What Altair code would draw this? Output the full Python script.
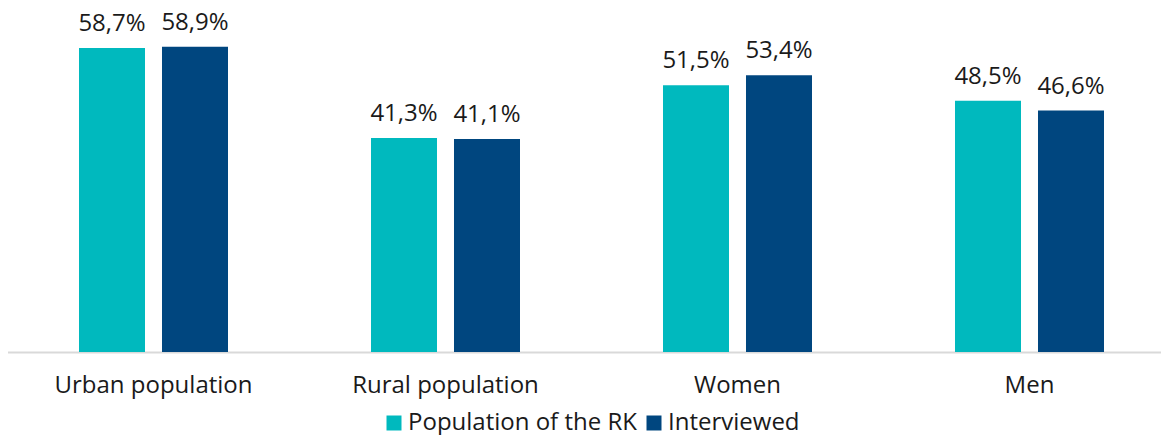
import altair as alt
import pandas as pd

categories = ["Urban population", "Rural population", "Women", "Men"]
series = ["Population of the RK", "Interviewed"]
population_rk = [58.7, 41.3, 51.5, 48.5]
interviewed = [58.9, 41.1, 53.4, 46.6]
colors = ["#00B9BE", "#00467F"]

rows = []
for i, c in enumerate(categories):
    for s, vals in zip(series, [population_rk, interviewed]):
        v = vals[i]
        rows.append({"category": c, "series": s, "value": v,
                     "label": f"{v:.1f}".replace(".", ",") + "%"})
df = pd.DataFrame(rows)

FONT = "Open Sans"
TXT = "#1a1a1a"

x = alt.X("category:N", sort=categories, title=None,
          scale=alt.Scale(paddingInner=0, paddingOuter=0, range=[-0.5, 1167.5]),
          axis=alt.Axis(labelAngle=0, ticks=False, domainColor="#d9d9d9", domainWidth=2,
                        labelFontSize=24, labelFont=FONT, labelColor=TXT,
                        labelPadding=21, labelLimit=400, grid=False))
xo = alt.XOffset("series:N", sort=series,
                 scale=alt.Scale(paddingInner=0.2048, paddingOuter=0.8614))
y = alt.Y("value:Q", scale=alt.Scale(domain=[0, 66.4]), axis=None)

base = alt.Chart(df).encode(x=x, xOffset=xo, y=y)

bars = base.mark_bar().encode(
    color=alt.Color("series:N", sort=series,
                    scale=alt.Scale(domain=series, range=colors),
                    legend=alt.Legend(title=None, orient="none", direction="horizontal",
                                      legendX=374, legendY=403,
                                      symbolType="square", symbolSize=225,
                                      symbolStrokeWidth=0, symbolOpacity=1,
                                      labelFontSize=24, labelFont=FONT, labelColor=TXT,
                                      labelLimit=400, labelOffset=2, columnPadding=5))
)

text = base.mark_text(baseline="alphabetic", dy=-17, fontSize=24, font=FONT,
                      color=TXT).encode(text="label:N")

chart = (bars + text).properties(
    width=1153, height=344,
    autosize=alt.AutoSizeParams(type="none"),
    padding={"left": 0, "top": 0, "right": 0, "bottom": 83}
).configure_view(stroke=None)

chart.save("out.html", embed_options={"renderer": "svg", "actions": False})
